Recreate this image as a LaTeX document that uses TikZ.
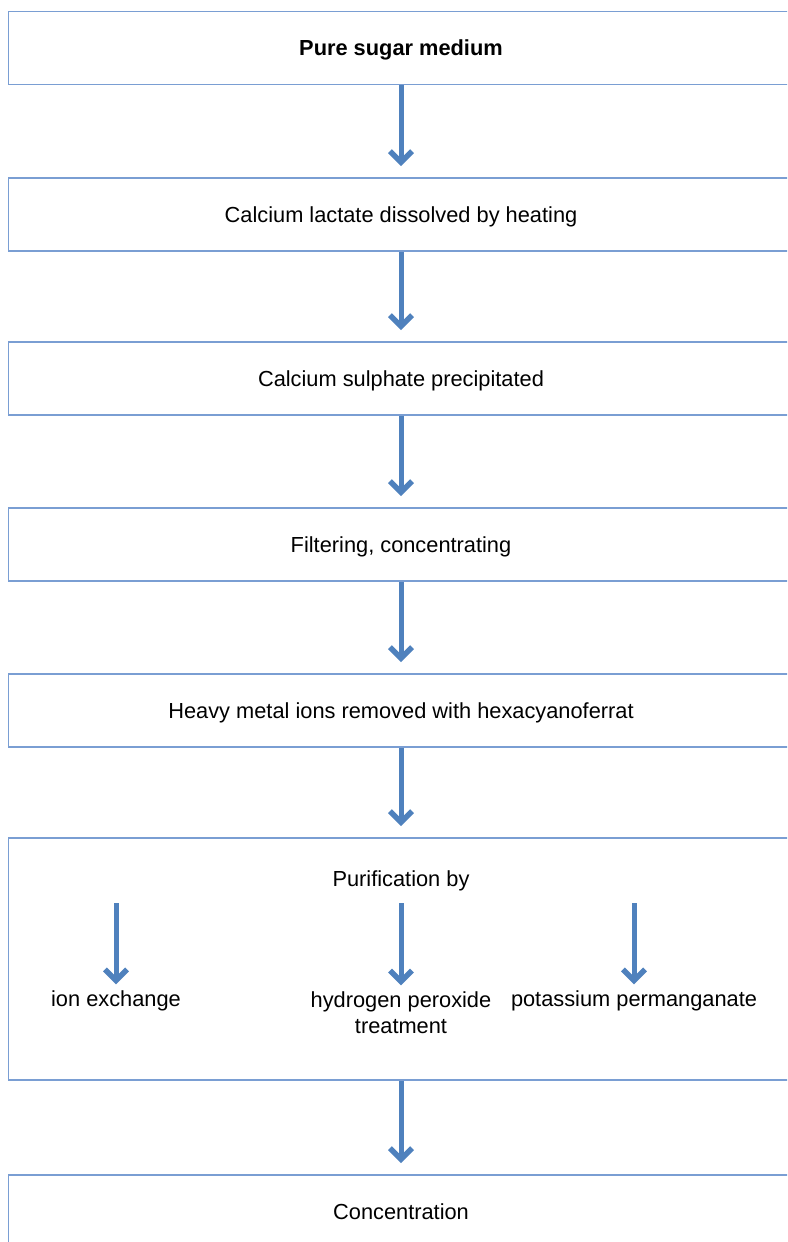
\documentclass[tikz,border=0pt]{standalone}
\usepackage{fontspec}
\setmainfont{Liberation Sans}
\usetikzlibrary{arrows.meta}
\definecolor{boxblue}{RGB}{122,158,211}
\definecolor{arrowblue}{RGB}{79,129,189}
\begin{document}
\begin{tikzpicture}[x=1pt,y=-1pt,font=\fontsize{21.8}{26}\selectfont,
        stage/.style={draw=boxblue,line width=1.9pt,minimum width=785pt,minimum height=73pt,inner sep=0pt,text depth=0pt},
        flow/.style={arrowblue,line width=5pt,-{Straight Barb[length=11pt,width=22pt,line width=5.5pt]}}]
    \useasboundingbox (0,0) rectangle (787,1242);
    \clip (0,0) rectangle (787,1242);
    % stages, the boxes run out past the right edge
    \node[stage] (medium) at (401,48) {\bfseries Pure sugar medium};
    \node[stage] (lactate) at (401,214.5) {Calcium lactate dissolved by heating};
    \node[stage] (sulphate) at (401,378.5) {Calcium sulphate precipitated};
    \node[stage] (filter) at (401,544.5) {Filtering, concentrating};
    \node[stage] (metal) at (401,710.5) {Heavy metal ions removed with hexacyanoferrat};
    \node[stage,minimum height=242pt] (purify) at (401,959) {};
    \node[stage] (conc) at (401,1211.5) {Concentration};
    % purification options
    \node (purifyby) at (401,881) {Purification by};
    \node (ionex) at (116,1001) {ion exchange};
    \node[align=center] (peroxide) at (401,1013) {hydrogen peroxide\\treatment};
    \node (permang) at (634,1001) {potassium permanganate};
    \coordinate (ionex top) at (116,903);
    \coordinate (peroxide top) at (401,903);
    \coordinate (permang top) at (634,903);
    \foreach \a/\b in {medium/lactate,lactate/sulphate,sulphate/filter,filter/metal,metal/purify,purify/conc}
        \draw[flow,shorten >=11pt] (\a.south) -- (\b.north);
    \foreach \n in {ionex,peroxide,permang}
        \draw[flow,shorten >=3pt] (\n\space top) -- (\n.north);
\end{tikzpicture}
\end{document}
